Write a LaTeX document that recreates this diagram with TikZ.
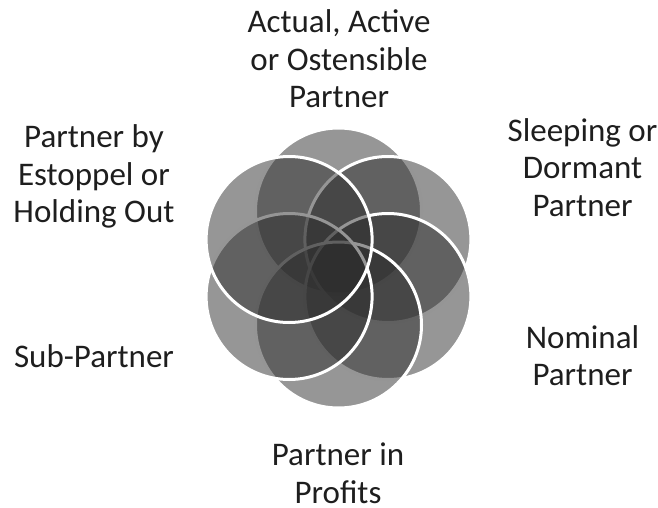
\documentclass[tikz,border=0pt]{standalone}
\usepackage{fontspec}
\setmainfont{Carlito}
\definecolor{petalfill}{RGB}{45,45,45}
\definecolor{labeltext}{RGB}{30,30,30}
\begin{document}
\begin{tikzpicture}[x=1pt,y=-1pt,
  petal/.style={circle,minimum size=166pt,inner sep=0pt,fill=petalfill,fill opacity=0.5,draw=white,draw opacity=1,line width=3pt},
  lbl/.style={align=center,anchor=base,inner sep=0pt,text=labeltext,font=\fontsize{33}{37.5}\selectfont}]
\useasboundingbox (0,0) rectangle (658,508);
\node[petal] (c1) at (338.5,211) {};
\node[petal] (c2) at (387.9,239.5) {};
\node[petal] (c3) at (387.9,296.5) {};
\node[petal] (c4) at (338.5,325) {};
\node[petal] (c5) at (289.1,296.5) {};
\node[petal] (c6) at (289.1,239.5) {};
\node[lbl] (l1) at (339,108) {Actual, Active\\or Ostensible\\Partner};
\node[lbl] (l2) at (582.5,216) {Sleeping or\\Dormant\\Partner};
\node[lbl] (l3) at (582.5,385.5) {Nominal\\Partner};
\node[lbl] (l4) at (338,503) {Partner in\\Profits};
\node[lbl] (l5) at (94,367) {Sub-Partner};
\node[lbl] (l6) at (94,222.5) {Partner by\\Estoppel or\\Holding Out};
\end{tikzpicture}
\end{document}
